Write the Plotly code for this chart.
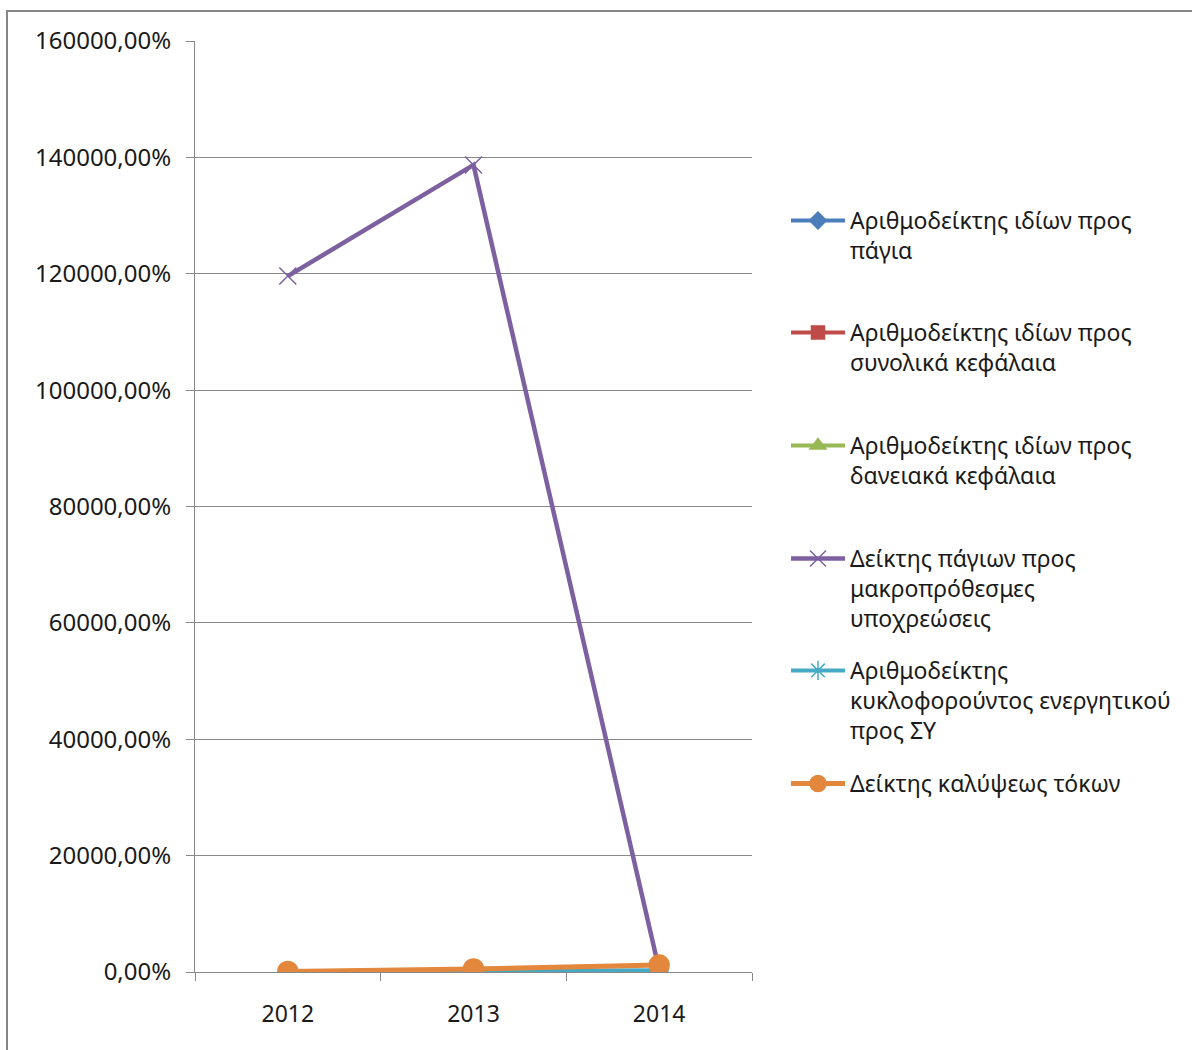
import plotly.graph_objects as go

# Years on the category axis
years = ["2012", "2013", "2014"]

# Ratio values (1.0 = 100%)
equity_to_fixed = [0.9, 1.1, 1.3]
equity_to_total = [0.4, 0.5, 0.6]
equity_to_debt = [0.7, 1.0, 1.5]
fixed_to_longterm = [1196.0, 1387.0, 4.0]
current_ratio = [1.2, 1.5, 3.0]
interest_coverage = [1.0, 5.2, 12.0]

series_names = [
    "Αριθμοδείκτης ιδίων προς<br>πάγια",
    "Αριθμοδείκτης ιδίων προς<br>συνολικά κεφάλαια",
    "Αριθμοδείκτης ιδίων προς<br>δανειακά κεφάλαια",
    "Δείκτης πάγιων προς<br>μακροπρόθεσμες<br>υποχρεώσεις",
    "Αριθμοδείκτης<br>κυκλοφορούντος ενεργητικού<br>προς ΣΥ",
    "Δείκτης καλύψεως τόκων",
]

series_values = [
    equity_to_fixed, equity_to_total, equity_to_debt,
    fixed_to_longterm, current_ratio, interest_coverage,
]

styles = [
    dict(color="#4A7EBB", symbol="diamond", msize=13, mline="#4A7EBB", lw=4),
    dict(color="#BE4B48", symbol="square", msize=13, mline="#BE4B48", lw=4),
    dict(color="#98B954", symbol="triangle-up", msize=14, mline="#98B954", lw=4),
    dict(color="#7D60A0", symbol="x-thin-open", msize=17, mline="#A795C4", lw=4.5),
    dict(color="#46AAC5", symbol="asterisk-open", msize=16, mline="#7CC3D8", lw=4),
    dict(color="#E2873C", symbol="circle", msize=20, mline="#E2873C", lw=5),
]

FONT = "Noto Sans"
TEXT = "#1a1a1a"
GRID = "#888888"

fig = go.Figure()

legend_ids = ["legend", "legend2", "legend3", "legend4", "legend5", "legend6"]

for name, vals, st, lg in zip(series_names, series_values, styles, legend_ids):
    fig.add_trace(go.Scatter(
        x=years, y=vals, name=name, mode="lines+markers",
        line=dict(color=st["color"], width=st["lw"]),
        marker=dict(symbol=st["symbol"], size=st["msize"], color=st["color"],
                    line=dict(color=st["mline"], width=1.5)),
        legend=lg,
    ))

# Plot area in pixels: x 195..752, y 41..972
W, H = 1192, 1050
L, R, T, B = 195, 752, 41, 972
pw, ph = R - L, B - T


def px_to_paper_x(px):
    return (px - L) / pw


def px_to_paper_y(py):
    return (B - py) / ph


legend_tops = [199, 311, 424, 537, 649, 762]
layout_legends = {}
for lg, top in zip(legend_ids, legend_tops):
    layout_legends[lg] = dict(
        x=px_to_paper_x(786), xanchor="left",
        y=px_to_paper_y(top), yanchor="top",
        font=dict(family=FONT, size=23, color=TEXT),
        bgcolor="rgba(0,0,0,0)", borderwidth=0,
        itemwidth=54, valign="top", tracegroupgap=0,
    )

fig.update_layout(
    width=W, height=H,
    margin=dict(l=L, r=W - R, t=T, b=H - B, autoexpand=False),
    paper_bgcolor="white", plot_bgcolor="white",
    separators=",.",
    showlegend=True,
    font=dict(family=FONT, size=23, color=TEXT),
    **layout_legends,
)

fig.update_xaxes(
    type="category", range=[-0.5, 2.5],
    showline=True, linecolor=GRID, linewidth=1,
    ticks="outside", tickson="boundaries", ticklen=8, tickcolor=GRID,
    showgrid=False, zeroline=False,
    tickfont=dict(family=FONT, size=23, color=TEXT),
    ticklabelstandoff=21,
)

fig.update_yaxes(
    range=[0, 1600], dtick=200, tickformat=".2%",
    showline=True, linecolor=GRID, linewidth=1,
    ticks="outside", ticklen=8, tickcolor=GRID,
    showgrid=True, gridcolor=GRID, gridwidth=1, zeroline=False,
    tickfont=dict(family=FONT, size=24, color=TEXT),
    ticklabelstandoff=10,
)

# Chart frame
fig.add_shape(
    type="rect", xref="paper", yref="paper", layer="below",
    x0=px_to_paper_x(7), x1=px_to_paper_x(1230),
    y0=px_to_paper_y(1090), y1=px_to_paper_y(11),
    line=dict(color="#868686", width=2), fillcolor="rgba(0,0,0,0)",
)

fig.write_html("out.html")
